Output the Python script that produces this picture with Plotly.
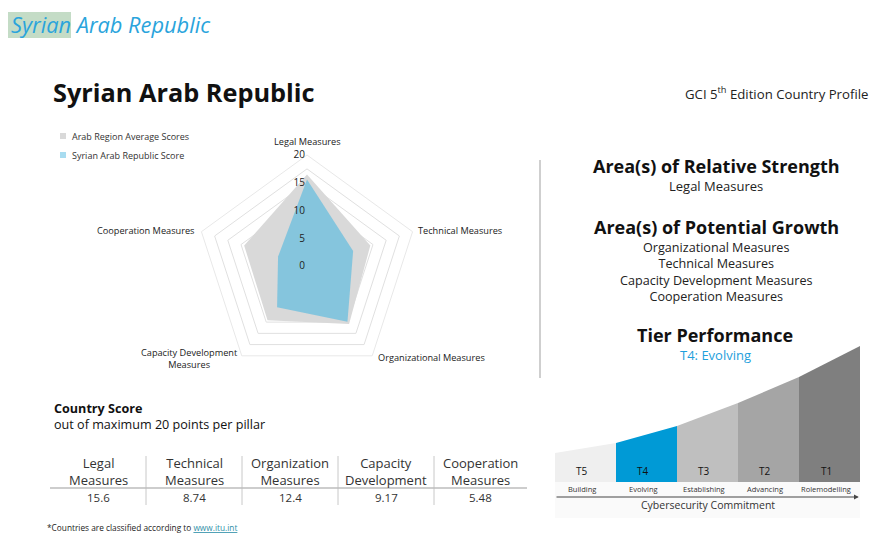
import plotly.graph_objects as go

W, H = 896, 556

# radar data
pillars = ["Legal Measures", "Technical Measures", "Organizational Measures",
           "Capacity Development<br>Measures", "Cooperation Measures"]
syria_scores = [15.6, 8.74, 12.4, 9.17, 5.48]
arab_avg_scores = [16.5, 12.0, 12.9, 12.1, 11.9]
series_names = ["Arab Region Average Scores", "Syrian Arab Republic Score"]
radial_ticks = [0, 2.5, 5, 7.5, 10, 12.5, 15, 17.5, 20]
radial_labels = ["0", "", "5", "", "10", "", "15", "", "20"]

# score table
table_headers = ["Legal<br>Measures", "Technical<br>Measures", "Organization<br>Measures",
                 "Capacity<br>Development", "Cooperation<br>Measures"]

# right panel
strength_areas = ["Legal Measures"]
growth_areas = ["Organizational Measures", "Technical Measures",
                "Capacity Development Measures", "Cooperation Measures"]

# tier graphic
tiers = ["T5", "T4", "T3", "T2", "T1"]
tier_names = ["Building", "Evolving", "Establishing", "Advancing", "Rolemodelling"]
tier_edges = [29, 39, 56, 79, 105, 136]   # curve height at each tier boundary
tier_colors = ["#efefef", "#009ad6", "#bfbfbf", "#a5a5a5", "#7f7f7f"]
current_tier = "T4: Evolving"

FONT = "Open Sans"
GREY_FILL = "#d9d9d9"
BLUE_FILL = "rgba(77,184,224,0.6)"


def px(x):
    return x / W


def py(y):
    return 1 - y / H


fig = go.Figure()

fig.add_trace(go.Scatterpolar(
    r=arab_avg_scores + arab_avg_scores[:1], theta=pillars + pillars[:1],
    fill="toself", fillcolor=GREY_FILL, mode="none", name=series_names[0],
    showlegend=False, hoverinfo="skip"))
fig.add_trace(go.Scatterpolar(
    r=syria_scores + syria_scores[:1], theta=pillars + pillars[:1],
    fill="toself", fillcolor=BLUE_FILL, mode="none", name=series_names[1],
    showlegend=False))

# tier bars
for i, t in enumerate(tiers):
    fig.add_trace(go.Scatter(
        x=[i, i, i + 1, i + 1, i], y=[0, tier_edges[i], tier_edges[i + 1], 0, 0],
        fill="toself", fillcolor=tier_colors[i], mode="lines", line=dict(width=0),
        showlegend=False, hoverinfo="skip"))

ann = []
shapes = []


def text(x, y, s, size=13, color="#222", anchor="center", **kw):
    ann.append(dict(x=px(x), y=py(y), xref="paper", yref="paper", text=s,
                    showarrow=False, xanchor=anchor, yanchor="middle",
                    font=dict(family=FONT, size=size, color=color), **kw))


# header
shapes.append(dict(type="rect", xref="paper", yref="paper", x0=px(8), x1=px(71),
                   y0=py(38), y1=py(12), fillcolor="#c4dcc6", line=dict(width=0),
                   layer="below"))
text(9, 25, "<i>Syrian Arab Republic</i>", size=21.8, color="#2aa4dc", anchor="left")
text(51, 92, "<b>Syrian Arab Republic</b>", size=25.3, color="#111", anchor="left")
text(870, 93, "GCI 5<sup>th</sup> Edition Country Profile", size=13.2, color="#222",
     anchor="right")

# legend
for k, (name, col) in enumerate(zip(series_names, [GREY_FILL, "#a8dcf0"])):
    y = 136 + k * 19
    shapes.append(dict(type="rect", xref="paper", yref="paper", x0=px(60), x1=px(66),
                       y0=py(y + 3), y1=py(y - 3), fillcolor=col, line=dict(width=0)))
    text(70, y, name, size=9, color="#333", anchor="left")

# pillar labels around the radar
label_pos = [(307, 142, "center"), (416, 230, "left"), (376, 357, "left"),
             (189, 358, "center"), (196, 230, "right")]
for name, (lx, ly, la) in zip(pillars, label_pos):
    text(lx, ly, name, size=9.2, color="#222", anchor=la)

# separator
shapes.append(dict(type="line", xref="paper", yref="paper", x0=px(540), x1=px(540),
                   y0=py(160), y1=py(378), line=dict(color="#cfcfcf", width=2)))

# right panel
cx = 716
text(cx, 166, "<b>Area(s) of Relative Strength</b>", size=18, color="#111")
text(cx, 186, "<br>".join(strength_areas), size=13)
text(cx, 227, "<b>Area(s) of Potential Growth</b>", size=18, color="#111")
text(cx, 271.5, "<br>".join(growth_areas), size=12.6)
text(715, 335, "<b>Tier Performance</b>", size=18, color="#111")
text(715, 355, current_tier, size=13, color="#1ea0dc")

# country score table
text(52, 416, "<b>Country Score</b><br>out of maximum 20 points per pillar",
     size=12.6, color="#111", anchor="left", align="left")
col_x = [98, 194, 290, 386, 481]
for k, (hdr, val) in enumerate(zip(table_headers, syria_scores)):
    text(col_x[k], 471.5, hdr, size=13, color="#333")
    text(col_x[k], 497, f"{val:g}", size=11.5, color="#333")
for xs in [146, 242, 338, 434]:
    shapes.append(dict(type="line", xref="paper", yref="paper", x0=px(xs), x1=px(xs),
                       y0=py(456), y1=py(505), line=dict(color="#c8c8c8", width=1)))
shapes.append(dict(type="line", xref="paper", yref="paper", x0=px(50), x1=px(527),
                   y0=py(488), y1=py(488), line=dict(color="#bdbdbd", width=1.5)))

text(45, 527, "*Countries are classified according to "
     "<a href='https://www.itu.int' style='color:#2f8fa8'><u>www.itu.int</u></a>",
     size=8.3, color="#222", anchor="left")

# tier labels
for i, (t, n) in enumerate(zip(tiers, tier_names)):
    ann.append(dict(x=i + 0.45, y=11, xref="x", yref="y", text=t, showarrow=False,
                    font=dict(family=FONT, size=10, color="#111")))
    ann.append(dict(x=i + 0.45, y=-7, xref="x", yref="y", text=n, showarrow=False,
                    font=dict(family=FONT, size=7.5, color="#333")))
ann.append(dict(x=4.98, y=-15, ax=0, ay=-15, xref="x", yref="y", axref="x", ayref="y",
                text="", showarrow=True, arrowhead=2, arrowsize=0.8, arrowwidth=1.2,
                arrowcolor="#444"))
ann.append(dict(x=2.5, y=-23, xref="x", yref="y", text="Cybersecurity Commitment",
                showarrow=False, font=dict(family=FONT, size=10.5, color="#333")))
shapes.append(dict(type="rect", xref="x", yref="y", x0=-0.05, x1=5.0, y0=-36, y1=0,
                   fillcolor="#fafafa", line=dict(width=0), layer="below"))

fig.update_layout(
    width=W, height=H, margin=dict(l=0, r=0, t=0, b=0),
    paper_bgcolor="white", plot_bgcolor="rgba(0,0,0,0)",
    font=dict(family=FONT, color="#222"),
    annotations=ann, shapes=shapes, showlegend=False,
    polar=dict(
        domain=dict(x=[px(196), px(418)], y=[py(377), py(155)]),
        gridshape="linear", bgcolor="white",
        radialaxis=dict(range=[0, 20], tickvals=radial_ticks, ticktext=radial_labels,
                        angle=90, tickangle=90, side="counterclockwise",
                        showline=False, ticks="",
                        gridcolor="#e0e0e0", tickfont=dict(size=10, color="#222")),
        angularaxis=dict(direction="clockwise", rotation=90, showgrid=False,
                         linecolor="#e8e8e8", ticks="", showticklabels=False),
    ),
    xaxis=dict(domain=[px(555), px(860)], range=[0, 5], visible=False, fixedrange=True),
    yaxis=dict(domain=[py(518), py(346)], range=[-36, 136], visible=False, fixedrange=True),
)

fig.write_html("out.html", post_script="document.body.style.margin='0';",
               config={"displayModeBar": False})
